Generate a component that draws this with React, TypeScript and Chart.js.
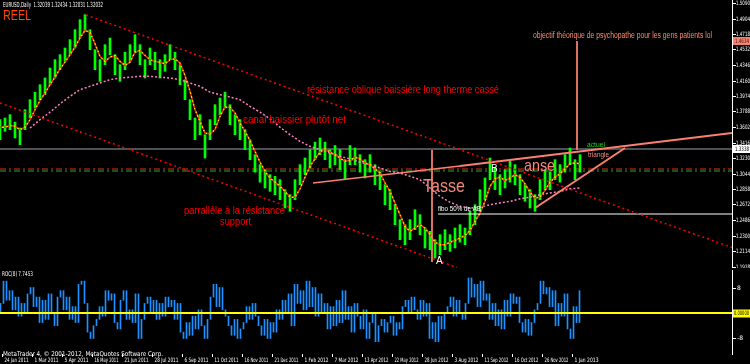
import React, { useEffect, useRef } from 'react';
import { Chart, registerables } from 'chart.js';
Chart.register(...registerables);

// ---- price data (EURUSD daily, one sample every ~4 bars) ----
const priceHigh = [
  1.369,1.371,1.375,1.366,1.359,1.381,1.393,1.402,1.411,1.419,
  1.431,1.441,1.447,1.455,1.465,1.477,1.489,1.495,1.477,1.453,
  1.441,1.459,1.467,1.447,1.435,1.450,1.459,1.471,1.459,1.441,
  1.455,1.450,1.441,1.447,1.459,1.450,1.435,1.417,1.393,1.371,
  1.375,1.351,1.369,1.387,1.395,1.402,1.387,1.375,1.369,1.357,
  1.345,1.327,1.315,1.309,1.303,1.301,1.297,1.285,1.279,1.297,
  1.315,1.323,1.333,1.342,1.347,1.342,1.333,1.338,1.333,1.321,
  1.338,1.335,1.327,1.321,1.327,1.315,1.306,1.291,1.285,1.267,
  1.249,1.243,1.249,1.261,1.255,1.239,1.235,1.225,1.231,1.237,
  1.231,1.239,1.243,1.239,1.259,1.267,1.285,1.299,1.323,1.311,
  1.303,1.309,1.319,1.315,1.303,1.291,1.285,1.279,1.297,1.309,
  1.306,1.321,1.315,1.327,1.335,1.321,1.327,
];
const priceLow = [
  1.345,1.355,1.357,1.347,1.339,1.357,1.371,1.383,1.393,1.399,
  1.411,1.419,1.429,1.439,1.447,1.455,1.467,1.475,1.453,1.429,
  1.415,1.435,1.447,1.423,1.415,1.429,1.439,1.450,1.435,1.419,
  1.435,1.429,1.419,1.427,1.441,1.429,1.411,1.393,1.369,1.345,
  1.351,1.323,1.345,1.363,1.375,1.383,1.363,1.351,1.345,1.333,
  1.321,1.306,1.294,1.287,1.283,1.279,1.273,1.263,1.259,1.273,
  1.291,1.303,1.311,1.321,1.327,1.321,1.311,1.315,1.309,1.297,
  1.315,1.315,1.306,1.299,1.306,1.291,1.285,1.267,1.261,1.243,
  1.225,1.219,1.225,1.237,1.231,1.215,1.213,1.203,1.207,1.213,
  1.211,1.215,1.222,1.219,1.231,1.243,1.259,1.273,1.297,1.285,
  1.279,1.287,1.294,1.291,1.279,1.271,1.263,1.259,1.273,1.285,
  1.285,1.297,1.294,1.306,1.315,1.297,1.306,
];
const fastMA = [
  1.360,1.360,1.362,1.361,1.357,1.360,1.369,1.381,1.392,1.401,
  1.411,1.420,1.430,1.438,1.447,1.456,1.467,1.476,1.474,1.460,
  1.445,1.439,1.444,1.446,1.439,1.434,1.438,1.450,1.452,1.446,
  1.441,1.439,1.438,1.436,1.441,1.442,1.437,1.422,1.403,1.381,
  1.367,1.353,1.352,1.357,1.373,1.384,1.384,1.377,1.365,1.355,
  1.344,1.331,1.318,1.307,1.299,1.294,1.289,1.283,1.276,1.276,
  1.286,1.300,1.313,1.322,1.330,1.334,1.330,1.327,1.323,1.319,
  1.320,1.324,1.322,1.317,1.315,1.310,1.305,1.293,1.283,1.269,
  1.255,1.241,1.235,1.239,1.243,1.239,1.231,1.222,1.219,1.219,
  1.222,1.224,1.227,1.230,1.236,1.247,1.257,1.271,1.289,1.298,
  1.300,1.296,1.299,1.303,1.300,1.292,1.282,1.275,1.276,1.284,
  1.294,1.300,1.304,1.310,1.316,1.317,1.316,
];
// slow MA sampled every 2 samples
const slowMA = [
  null,null,null,
  1.359,1.369,1.378,1.388,1.397,1.405,1.409,1.413,1.417,1.419,
  1.420,1.421,1.421,1.420,1.419,1.417,1.413,1.409,1.402,1.399,
  1.396,1.393,1.385,1.378,1.370,1.360,1.351,1.343,1.337,1.333,
  1.329,1.325,1.322,1.318,1.315,1.311,1.307,1.305,1.301,1.297,
  1.287,1.277,1.270,1.265,1.263,1.264,1.267,1.269,1.271,1.274,
  1.276,1.279,1.281,1.283,1.286,1.287,
];
// oscillator (sub-window)
const oscValues = [
  3,10,4,7,1,5,-1,3,0,6,
  8,2,5,-3,4,-2,6,0,-4,5,
  7,1,5,-2,2,-3,9,10,3,-6,
  -8,-4,-2,2,-1,7,4,6,-3,-5,
  4,7,-2,1,-3,6,-8,-2,3,5,
  0,4,-2,3,-1,5,2,4,-2,3,
  -6,-8,-3,-7,-1,-5,1,-4,-8,-2,
  5,9,2,8,1,-1,-4,-7,-2,-8,
  -5,-3,2,-2,3,-1,-4,-7,-2,-8,
  -3,-6,1,-2,4,0,6,-4,9,3,
  7,1,10,2,8,-1,6,0,3,-5,
  2,-4,4,-3,7,-2,2,-6,3,-1,
  -5,1,-8,-3,0,-9,-4,-2,-6,-3,
  -1,-7,-3,-5,2,4,0,5,1,-2,
  4,-1,3,-8,-3,-9,-1,-5,0,2,
  5,-1,4,0,-2,3,11,5,9,2,
  10,4,6,-2,3,-4,1,-5,4,-1,
  6,3,5,-3,-6,-2,-7,-3,1,3,
  10,6,8,2,7,-4,3,-1,6,-5,
  -8,2,-3,7,
];

const priceTicks = [1.5090,1.4904,1.4718,1.4532,1.4346,1.4160,1.3974,1.3788,1.3602,1.3416,1.3230,1.3044,1.2858,1.2672,1.2486,1.2300,1.2114,1.1928];
const oscTicks = [8, 0, -8];
const dateLabels = ['24 Jan 2011','1 Mar 2011','5 Apr 2011','16 May 2011','21 Jun 2011','28 Jul 2011','6 Sep 2011','11 Oct 2011','16 Nov 2011','21 Dec 2011','1 Feb 2012','7 Mar 2012','13 Apr 2012','22 May 2012','28 Jun 2012','3 Aug 2012','11 Sep 2012','16 Oct 2012','26 Nov 2012','1 Jan 2013'];
const datePositions = [0.4,6.4,12.4,18.4,24.4,30.4,36.4,42.4,48.4,54.4,60.4,66.4,72.4,78.4,84.4,90.4,96.4,102.4,108.4,114.4];

// drawn objects (in price / sample units)
const resistanceLine = [{ x: 17.2, y: 1.4946 }, { x: 146.4, y: 1.2155 }];
const supportLine = [{ x: 0, y: 1.389 }, { x: 91.4, y: 1.1916 }];
const necklineLeft = [{ x: 62.6, y: 1.293 }, { x: 92, y: 1.3134 }];
const necklineRight = [{ x: 92, y: 1.3134 }, { x: 146.4, y: 1.353 }];
const triangleLine = [{ x: 107, y: 1.263 }, { x: 125, y: 1.335 }];
const cupDepth = [{ x: 86.4, y: 1.3326 }, { x: 86.4, y: 1.1982 }];
const targetLine = [{ x: 115.4, y: 1.4634 }, { x: 115.4, y: 1.3326 }];
const targetPrice = 1.4634;
const lastPrice = 1.3338;
const fiboLevel = 1.2558;
const redLevel = 1.3098;
const greenLevel = 1.3074;

const X_MAX = 146.4;
const Y_MIN = 1.191;
const Y_MAX = 1.5126;

function txt(ctx: CanvasRenderingContext2D, s: string, x: number, y: number, size: number, color: string, maxW?: number, family = 'Liberation Sans') {
  ctx.save();
  ctx.font = `${size}px "${family}"`;
  ctx.fillStyle = color;
  ctx.textBaseline = 'middle';
  ctx.textAlign = 'left';
  if (maxW) ctx.fillText(s, x, y, maxW); else ctx.fillText(s, x, y);
  ctx.restore();
}

function seg(data: any[], color: string, width: number, dash: number[] = [], order = 1, extra: any = {}) {
  return { type: 'line', data, borderColor: color, borderWidth: width, borderDash: dash, pointRadius: 0, fill: false, tension: 0, order, ...extra };
}

const mainPlugin = {
  id: 'mainDecor',
  afterDraw(chart: any) {
    const ctx: CanvasRenderingContext2D = chart.ctx;
    const ys = chart.scales.y;
    ctx.save();
    ctx.strokeStyle = '#ffffff';
    ctx.lineWidth = 1;
    ctx.beginPath(); ctx.moveTo(732.5, 0); ctx.lineTo(732.5, 268); ctx.stroke();
    priceTicks.forEach((v) => {
      const y = Math.round(ys.getPixelForValue(v)) + 0.5;
      ctx.beginPath(); ctx.moveTo(733, y); ctx.lineTo(736, y); ctx.stroke();
      txt(ctx, v.toFixed(4), 736, y, 6, '#ffffff', 14, 'DejaVu Sans');
    });
    const ty = ys.getPixelForValue(targetPrice);
    ctx.fillStyle = '#fa8072';
    ctx.fillRect(733, ty - 4, 17, 8);
    txt(ctx, targetPrice.toFixed(4), 735, ty, 6, '#3a1a10', 14, 'DejaVu Sans');
    const ly = ys.getPixelForValue(lastPrice);
    ctx.fillStyle = '#ffffff';
    ctx.fillRect(733, ly - 4, 17, 8);
    txt(ctx, lastPrice.toFixed(4), 735, ly, 6, '#000000', 14, 'DejaVu Sans');
    ctx.restore();

    txt(ctx, 'EURUSD,Daily  1.32039 1.32434 1.32031 1.32032', 3, 5.5, 7, '#ffffff', 100, 'DejaVu Sans');
    txt(ctx, 'REEL', 3, 16, 15, '#ff4500', 28);
    txt(ctx, 'résistance oblique baissière long therme cassé', 307, 90, 11, '#ff0000', 192);
    txt(ctx, 'canal baissier plutôt net', 243, 119.5, 11, '#ff0000', 103);
    txt(ctx, 'parrallèle à la résistance', 184, 211, 11, '#ff0000', 101);
    txt(ctx, 'support', 220, 221.5, 11, '#ff0000', 31);
    txt(ctx, 'Tasse', 423, 187, 19, '#f08880', 42);
    txt(ctx, 'anse', 524, 166, 17, '#f08880', 31);
    txt(ctx, 'B', 491, 169.5, 10, '#ffffff');
    txt(ctx, 'A', 436, 261.5, 10, '#ffffff');
    txt(ctx, 'fibo 50% de AB', 438, 209.5, 7, '#ffffff', 43);
    txt(ctx, 'objectif théorique de psychopathe pour les gens patients lol', 533, 36, 8.5, '#ff8a6a', 179);
    txt(ctx, 'actuel', 587, 145, 7, '#22cc22', 18);
    txt(ctx, 'triangle', 588, 155.5, 7, '#f08880', 21);
  },
};

const oscPlugin = {
  id: 'oscDecor',
  afterDraw(chart: any) {
    const ctx: CanvasRenderingContext2D = chart.ctx;
    const ys = chart.scales.y;
    const xs = chart.scales.x;
    ctx.save();
    ctx.strokeStyle = '#ffffff';
    ctx.lineWidth = 1;
    ctx.beginPath(); ctx.moveTo(732.5, 2); ctx.lineTo(732.5, 87); ctx.stroke();
    oscTicks.forEach((v) => {
      const y = Math.round(ys.getPixelForValue(v)) + 0.5;
      ctx.beginPath(); ctx.moveTo(733, y); ctx.lineTo(736, y); ctx.stroke();
      if (v === 0) {
        ctx.fillStyle = '#ffff00';
        ctx.fillRect(733, y - 4, 17, 8);
        txt(ctx, '0.00000', 734, y, 6, '#000000', 15, 'DejaVu Sans');
      } else {
        txt(ctx, String(v), 737, y, 6, '#ffffff', 12, 'DejaVu Sans');
      }
    });
    txt(ctx, 'ROC(8) 7.7453', 2, 6.5, 6.5, '#ffffff', 31, 'DejaVu Sans');
    txt(ctx, 'MetaTrader 4, © 2001-2012, MetaQuotes Software Corp.', 3, 86, 6.5, '#ffffff', 160, 'DejaVu Sans');
    dateLabels.forEach((d, i) => {
      const x = Math.round(xs.getPixelForValue(datePositions[i])) + 0.5;
      ctx.beginPath(); ctx.moveTo(x, 86); ctx.lineTo(x, 89); ctx.stroke();
      txt(ctx, d, x + 2, 92.5, 6, '#ffffff', 24, 'DejaVu Sans');
    });
    ctx.restore();
  },
};

export default function App() {
  const mainRef = useRef<HTMLCanvasElement>(null);
  const oscRef = useRef<HTMLCanvasElement>(null);

  useEffect(() => {
    document.body.style.margin = '0';
    document.body.style.background = '#000';
    const fullW = (s: any) => { s.width = 18; };

    const fastPts = fastMA.map((v, i) => ({ x: i, y: v }));
    const main = new Chart(mainRef.current as HTMLCanvasElement, {
      type: 'bar',
      data: {
        datasets: [
          seg(resistanceLine, '#ff0000', 1.5, [2, 3], 1),
          seg(supportLine, '#ff0000', 1.5, [2, 3], 1),
          seg(necklineLeft, '#fa8072', 1.5, [], 1),
          seg(necklineRight, '#fa8072', 2, [], 1),
          seg(triangleLine, '#fa8072', 2, [], 1),
          seg(cupDepth, '#fa8072', 1, [], 1),
          seg(targetLine, '#fa8072', 1, [], 1),
          seg([{ x: 0, y: lastPrice }, { x: X_MAX, y: lastPrice }], '#9aa0a8', 1, [], 6),
          seg([{ x: 87.6, y: fiboLevel }, { x: X_MAX, y: fiboLevel }], '#ffffff', 1, [], 1),
          seg([{ x: 0, y: redLevel }, { x: X_MAX, y: redLevel }], '#ff2020', 1, [6, 3, 2, 3], 6),
          seg([{ x: 0, y: greenLevel }, { x: X_MAX, y: greenLevel }], '#20b020', 1, [6, 3, 2, 3], 6),
          seg(fastPts, '#ff2a00', 1.5, [2, 2], 2),
          seg(fastPts, '#ffd200', 1.5, [2, 2], 2, { borderDashOffset: 2 }),
          seg(slowMA.map((v, k) => ({ x: k * 2, y: v })), '#ff80c0', 1.5, [2, 2], 3),
          {
            type: 'bar',
            data: priceHigh.map((h, i) => ({ x: i, y: [priceLow[i], h] })),
            backgroundColor: '#00ff00',
            borderWidth: 0,
            barThickness: 2,
            order: 4,
          },
        ] as any,
      },
      options: {
        responsive: false,
        animation: false,
        devicePixelRatio: 1,
        events: [],
        layout: { padding: 0 },
        plugins: { legend: { display: false }, tooltip: { enabled: false } },
        scales: {
          x: { type: 'linear', min: 0, max: X_MAX, offset: false, display: false },
          y: {
            type: 'linear', position: 'right', min: Y_MIN, max: Y_MAX,
            ticks: { display: false }, grid: { display: false }, border: { display: false },
            afterFit: fullW,
          },
        },
      } as any,
      plugins: [mainPlugin],
    });

    // oscillator drawn as vertical strokes from one reading to the next
    const oscStrokes = oscValues.map((v, j) => ({ x: j * 0.6 + 0.1, y: [j > 0 ? oscValues[j - 1] : 0, v] }));
    const osc = new Chart(oscRef.current as HTMLCanvasElement, {
      type: 'bar',
      data: {
        datasets: [
          seg([{ x: 0, y: 0 }, { x: X_MAX, y: 0 }], '#ffff00', 2, [], 1),
          { type: 'bar', data: oscStrokes, backgroundColor: '#1e90ff', borderWidth: 0, barThickness: 1, maxBarThickness: 1, order: 2 },
        ] as any,
      },
      options: {
        responsive: false,
        animation: false,
        devicePixelRatio: 1,
        events: [],
        layout: { padding: { top: 2, bottom: 15, left: 0, right: 0 } },
        plugins: { legend: { display: false }, tooltip: { enabled: false } },
        scales: {
          x: { type: 'linear', min: 0, max: X_MAX, offset: false, display: false },
          y: {
            type: 'linear', position: 'right', min: -11.3, max: 13.5,
            ticks: { display: false }, grid: { display: false }, border: { display: false },
            afterFit: fullW,
          },
        },
      } as any,
      plugins: [oscPlugin],
    });

    return () => { main.destroy(); osc.destroy(); };
  }, []);

  return (
    <div style={{ width: 750, height: 364, background: '#000', overflow: 'hidden' }}>
      <canvas ref={mainRef} width={750} height={268} style={{ display: 'block' }} />
      <canvas ref={oscRef} width={750} height={96} style={{ display: 'block' }} />
    </div>
  );
}
